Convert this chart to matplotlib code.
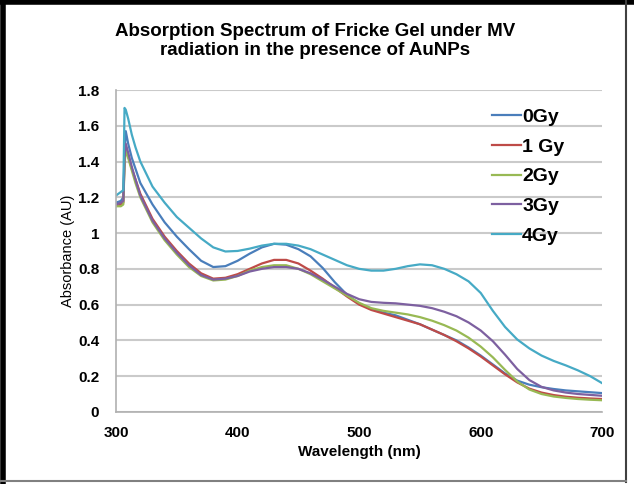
import matplotlib
matplotlib.use("Agg")
import matplotlib.pyplot as plt
from matplotlib.lines import Line2D

plt.rcParams['font.family'] = ['Liberation Sans', 'DejaVu Sans']

# wavelength grid (nm)
wavelength = [300, 304, 306, 307, 308, 310, 313, 316, 320, 325, 330, 340, 350, 360, 370,
              380, 390, 400, 410, 420, 430, 440, 450, 460, 470, 480, 490, 500, 510, 520,
              530, 540, 550, 560, 570, 580, 590, 600, 610, 620, 630, 640, 650, 660, 670,
              680, 690, 700]

gy0 = [1.17, 1.18, 1.20, 1.45, 1.57, 1.50, 1.42, 1.36, 1.28, 1.22, 1.16, 1.06, 0.98, 0.91, 0.845,
       0.81, 0.815, 0.845, 0.885, 0.92, 0.94, 0.935, 0.91, 0.87, 0.805, 0.725, 0.655, 0.605, 0.575, 0.555,
       0.54, 0.515, 0.49, 0.46, 0.43, 0.40, 0.36, 0.315, 0.265, 0.215, 0.175, 0.152, 0.138, 0.128, 0.12,
       0.115, 0.11, 0.105]
gy1 = [1.15, 1.16, 1.17, 1.40, 1.48, 1.43, 1.36, 1.30, 1.22, 1.15, 1.08, 0.98, 0.90, 0.83, 0.775,
       0.745, 0.75, 0.77, 0.80, 0.83, 0.85, 0.85, 0.83, 0.79, 0.745, 0.695, 0.645, 0.60, 0.57, 0.55,
       0.53, 0.51, 0.49, 0.46, 0.43, 0.395, 0.355, 0.31, 0.26, 0.21, 0.165, 0.13, 0.108, 0.094, 0.085,
       0.079, 0.075, 0.072]
gy2 = [1.15, 1.15, 1.16, 1.38, 1.47, 1.42, 1.35, 1.28, 1.20, 1.13, 1.06, 0.96, 0.88, 0.81, 0.76,
       0.735, 0.74, 0.76, 0.79, 0.81, 0.82, 0.82, 0.80, 0.77, 0.73, 0.69, 0.65, 0.61, 0.58, 0.565,
       0.555, 0.545, 0.53, 0.51, 0.485, 0.455, 0.415, 0.365, 0.305, 0.235, 0.17, 0.125, 0.1, 0.086, 0.078,
       0.072, 0.068, 0.065]
gy3 = [1.16, 1.17, 1.18, 1.42, 1.50, 1.45, 1.37, 1.30, 1.21, 1.14, 1.07, 0.97, 0.89, 0.82, 0.765,
       0.74, 0.745, 0.76, 0.785, 0.80, 0.81, 0.81, 0.80, 0.775, 0.74, 0.70, 0.66, 0.63, 0.615, 0.61,
       0.607, 0.60, 0.593, 0.58, 0.56, 0.535, 0.50, 0.455, 0.395, 0.32, 0.24, 0.178, 0.14, 0.12, 0.108,
       0.1, 0.095, 0.09]
gy4 = [1.21, 1.23, 1.24, 1.70, 1.69, 1.64, 1.55, 1.48, 1.40, 1.33, 1.26, 1.17, 1.09, 1.03, 0.97,
       0.92, 0.897, 0.90, 0.913, 0.93, 0.94, 0.94, 0.93, 0.91, 0.88, 0.85, 0.82, 0.80, 0.79, 0.79,
       0.80, 0.815, 0.825, 0.82, 0.80, 0.77, 0.73, 0.665, 0.565, 0.475, 0.405, 0.355, 0.315, 0.285, 0.26,
       0.232, 0.2, 0.16]

labels = ['0Gy', '1 Gy', '2Gy', '3Gy', '4Gy']
series = [gy0, gy1, gy2, gy3, gy4]
colors = ['#4A7EBB', '#BE4B48', '#98B954', '#7D60A0', '#46AAC5']

fig = plt.figure(figsize=(6.34, 4.84), dpi=100)
ax = fig.add_axes([0.183, 0.149, 0.767, 0.665])

for y, lab, c in zip(series, labels, colors):
    ax.plot(wavelength, y, color=c, lw=1.6, label=lab)

ax.set_xlim(300, 700)
ax.set_ylim(0, 1.8)
ax.set_xticks([300, 400, 500, 600, 700])
ax.set_yticks([0, 0.2, 0.4, 0.6, 0.8, 1.0, 1.2, 1.4, 1.6, 1.8])
ax.set_yticklabels(['0', '0.2', '0.4', '0.6', '0.8', '1', '1.2', '1.4', '1.6', '1.8'])
ax.grid(axis='y', color='#CACACA', lw=1.5)
ax.set_axisbelow(True)
for s in ['top', 'right']:
    ax.spines[s].set_visible(False)
for s in ['left', 'bottom']:
    ax.spines[s].set_color('#B0B0B0')
    ax.spines[s].set_linewidth(1.2)
ax.tick_params(length=0, labelsize=11, pad=10)
for t in ax.get_xticklabels() + ax.get_yticklabels():
    t.set_fontweight('bold')
ax.tick_params(axis='y', pad=12)

ax.set_xlabel('Wavelength (nm)', fontsize=11, fontweight='bold', labelpad=4)
ax.set_ylabel('Absorbance (AU)', fontsize=10.5, labelpad=2)

fig.text(0.497, 0.915, 'Absorption Spectrum of Fricke Gel under MV\nradiation in the presence of AuNPs',
         ha='center', va='center', fontsize=13.5, fontweight='bold', linespacing=1.2)

leg = ax.legend(loc='upper left', bbox_to_anchor=(0.757, 0.968), frameon=False,
                prop={'weight': 'bold', 'size': 14}, handlelength=1.5, handletextpad=0.05,
                labelspacing=0.63, borderaxespad=0)

# outer frame
fig.add_artist(Line2D([0.004, 0.004], [0, 1], transform=fig.transFigure, color='black', lw=4))
fig.add_artist(Line2D([0, 1], [0.996, 0.996], transform=fig.transFigure, color='black', lw=4))
fig.add_artist(Line2D([0.988, 0.988], [0.005, 1], transform=fig.transFigure, color='#404040', lw=1.5))
fig.add_artist(Line2D([0, 0.988], [0.007, 0.007], transform=fig.transFigure, color='#808080', lw=1.5))

fig.savefig('out.png', dpi=100)
